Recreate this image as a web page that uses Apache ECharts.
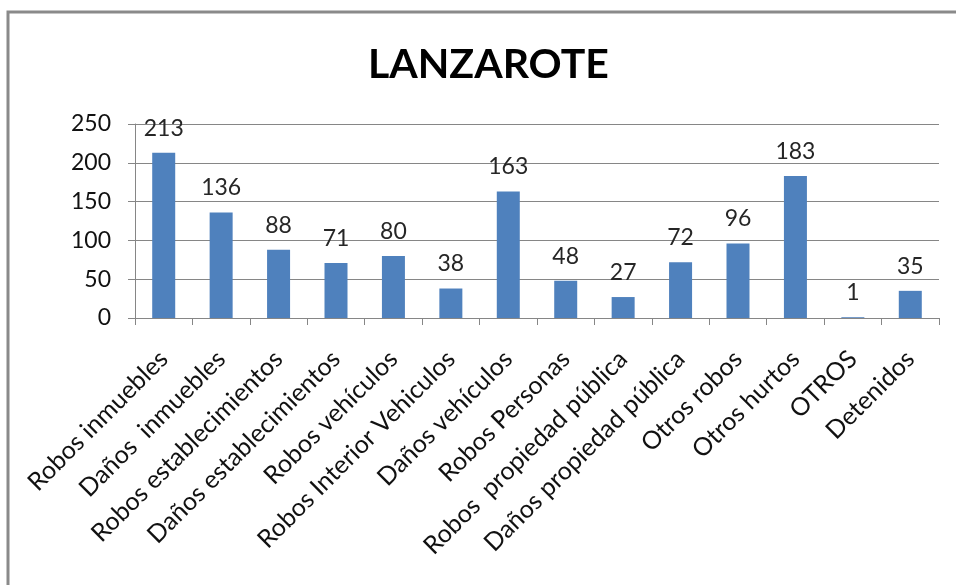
<!DOCTYPE html>
<html>
<head>
<meta charset="utf-8">
<script src="https://cdn.jsdelivr.net/npm/echarts@6/dist/echarts.min.js"></script>
<style>
  html, body { margin: 0; padding: 0; background: #fff; }
  #chart { width: 956px; height: 585px; }
</style>
</head>
<body>
<div id="chart"></div>
<script>
// datos
const categorias = [
  'Robos inmuebles', 'Daños  inmuebles', 'Robos establecimientos', 'Daños establecimientos',
  'Robos vehículos', 'Robos Interior Vehiculos', 'Daños vehículos', 'Robos Personas',
  'Robos  propiedad pública', 'Daños propiedad pública', 'Otros robos', 'Otros hurtos',
  'OTROS', 'Detenidos'
];
const valores = [213, 136, 88, 71, 80, 38, 163, 48, 27, 72, 96, 183, 1, 35];
const ticksY = [0, 50, 100, 150, 200, 250];

const fuente = 'Lato';
const chart = echarts.init(document.getElementById('chart'));

const option = {
  backgroundColor: '#fff',
  animation: false,
  title: {
    text: 'LANZAROTE',
    left: 363,
    top: 39,
    textStyle: { fontFamily: fuente, fontWeight: 'bold', fontSize: 41, color: '#000' }
  },
  graphic: [{
    type: 'polyline',
    shape: { points: [[8, 585], [8, 12], [956, 12]] },
    style: { stroke: '#8a8a8a', lineWidth: 3, fill: null }
  }],
  grid: { left: 135, right: 17, top: 124, bottom: 267 },
  xAxis: {
    type: 'category',
    data: categorias,
    axisLine: { lineStyle: { color: '#868686', width: 1 } },
    axisTick: { show: true, length: 7, lineStyle: { color: '#868686' } },
    axisLabel: {
      interval: 0,
      rotate: 45,
      margin: 37,
      fontFamily: fuente,
      fontSize: 25,
      color: '#111'
    }
  },
  yAxis: {
    type: 'value',
    min: ticksY[0],
    max: ticksY[ticksY.length - 1],
    interval: 50,
    axisLine: { show: true, lineStyle: { color: '#868686', width: 1 } },
    axisTick: { show: true, length: 7, lineStyle: { color: '#868686' } },
    axisLabel: { margin: 24, fontFamily: fuente, fontSize: 23, color: '#111' },
    splitLine: { lineStyle: { color: '#868686', width: 1 } }
  },
  series: [{
    type: 'bar',
    data: valores,
    barWidth: 23,
    itemStyle: { color: '#4f81bd' },
    label: {
      show: true,
      position: 'top',
      distance: 13,
      fontFamily: fuente,
      fontSize: 23,
      color: '#262626'
    }
  }]
};

chart.setOption(option);
</script>
</body>
</html>
